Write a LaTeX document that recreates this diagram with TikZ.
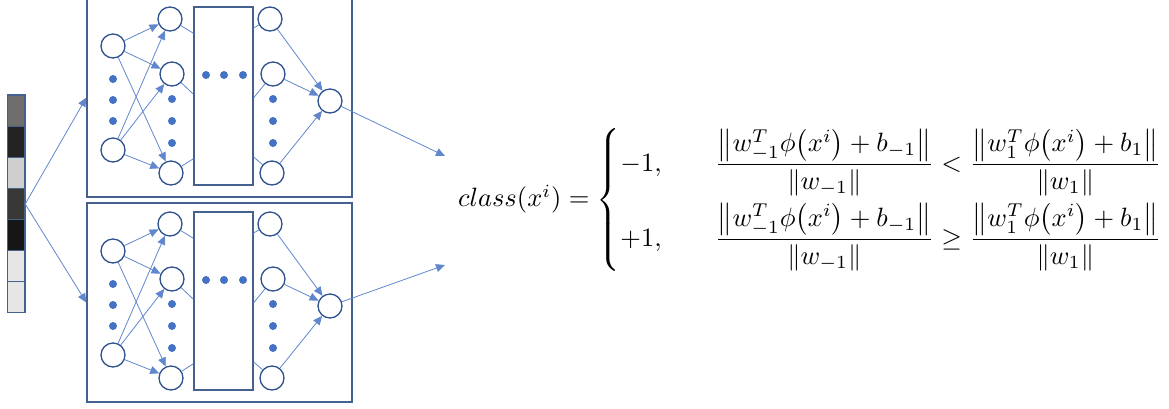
\documentclass[tikz,border=0pt]{standalone}
\usepackage{amsmath,amssymb}
\usepackage{tikz}
\usetikzlibrary{calc,positioning,arrows.meta}
\definecolor{nnblue} {HTML}{4472C4}
\definecolor{nnedge} {HTML}{2F528F}
\definecolor{nnframe}{HTML}{44618F}
\definecolor{cellA}  {HTML}{706D6D}
\definecolor{cellB}  {HTML}{232323}
\definecolor{cellC}  {HTML}{D0CFD0}
\definecolor{cellD}  {HTML}{3A3836}
\definecolor{cellE}  {HTML}{161616}
\definecolor{cellF}  {HTML}{E6E6E6}

\begin{document}
\begin{tikzpicture}[x=1pt, y=-1pt,
    neuron/.style={circle, draw=nnedge, line width=1.3pt, fill=white, minimum size=24pt, inner sep=0pt},
    frame/.style={rectangle, draw=nnframe, line width=1.3pt, inner sep=0pt},
    dot/.style={fill=nnblue},
    link/.style={draw=nnblue!85, line width=0.8pt},
    feed/.style={link, -{Triangle[length=9pt,width=8pt]}},
    formula/.style={inner sep=0pt}]
  \useasboundingbox (0,0) rectangle (1169,408);
  % input strip
  \foreach \c [count=\k from 0] in {cellA,cellB,cellC,cellD,cellE,cellF,cellF}
    \filldraw[fill=\c, draw=nnframe, line width=1.1pt] (7.5,95+31.1*\k) rectangle (25,126.1+31.1*\k);
  \node[inner sep=0pt, minimum width=17.5pt, minimum height=218pt] (strip) at (16.25,204) {};
  % the two networks
  \foreach \n/\dy in {t/0, b/205} {
    \node[frame, minimum width=265pt, minimum height=199pt] (\n box) at (219.5,97.5+\dy) {};
    \node[frame, minimum width=59pt, minimum height=178pt] (\n mid) at (223.5,96+\dy) {};
    \node[neuron] (\n i1) at (113,46+\dy) {};
    \node[neuron] (\n i2) at (113,150+\dy) {};
    \node[neuron] (\n a1) at (170,19+\dy) {};
    \node[neuron] (\n a2) at (172,74+\dy) {};
    \node[neuron] (\n a3) at (171,173+\dy) {};
    \node[neuron] (\n z1) at (270,19+\dy) {};
    \node[neuron] (\n z2) at (273,74+\dy) {};
    \node[neuron] (\n z3) at (272,173+\dy) {};
    \node[neuron] (\n out) at (330,101+\dy) {};
    \foreach \y in {79,100,121}
      \fill[dot] (113,\y+\dy) circle (4pt);
    \foreach \y in {99,121,143} {
      \fill[dot] (172,\y+\dy) circle (4pt);
      \fill[dot] (273,\y+\dy) circle (4pt);
    }
    \foreach \x in {206,224,243}
      \fill[dot] (\x,75+\dy) circle (4pt);
    \foreach \s in {1,2}
      \foreach \t in {1,2,3}
        \draw[feed] (\n i\s) -- (\n a\t);
    \draw[link] (\n a1) -- ($(\n mid.north west)!0.15!(\n mid.south west)$);
    \draw[link] (\n a2) -- ($(\n mid.north west)!0.49!(\n mid.south west)$);
    \draw[link] (\n a3) -- ($(\n mid.north west)!0.85!(\n mid.south west)$);
    \draw[link] ($(\n mid.north east)!0.12!(\n mid.south east)$) -- (\n z1);
    \draw[link] ($(\n mid.north east)!0.51!(\n mid.south east)$) -- (\n z2);
    \draw[link] ($(\n mid.north east)!0.84!(\n mid.south east)$) -- (\n z3);
    \foreach \t in {1,2,3}
      \draw[feed] (\n z\t) -- (\n out);
    \draw[feed] (strip.east) -- (\n box.west);
  }
  \coordinate (tend) at (445,156);
  \coordinate (bend) at (445,265);
  \draw[feed] (tout) -- (tend);
  \draw[feed] (bout) -- (bend);
  % decision rule
  \node[formula, anchor=west] (rule) at (458,200) {\scalebox{2.65}{$class(x^{i})=
    \begin{cases}
      -1, & \quad\dfrac{\bigl\|w_{-1}^{T}\phi\bigl(x^{i}\bigr)+b_{-1}\bigr\|}{\|w_{-1}\|}
            <\dfrac{\bigl\|w_{1}^{T}\phi\bigl(x^{i}\bigr)+b_{1}\bigr\|}{\|w_{1}\|}\\[8pt]
      +1, & \quad\dfrac{\bigl\|w_{-1}^{T}\phi\bigl(x^{i}\bigr)+b_{-1}\bigr\|}{\|w_{-1}\|}
            \geq\dfrac{\bigl\|w_{1}^{T}\phi\bigl(x^{i}\bigr)+b_{1}\bigr\|}{\|w_{1}\|}
    \end{cases}$}};
\end{tikzpicture}
\end{document}
